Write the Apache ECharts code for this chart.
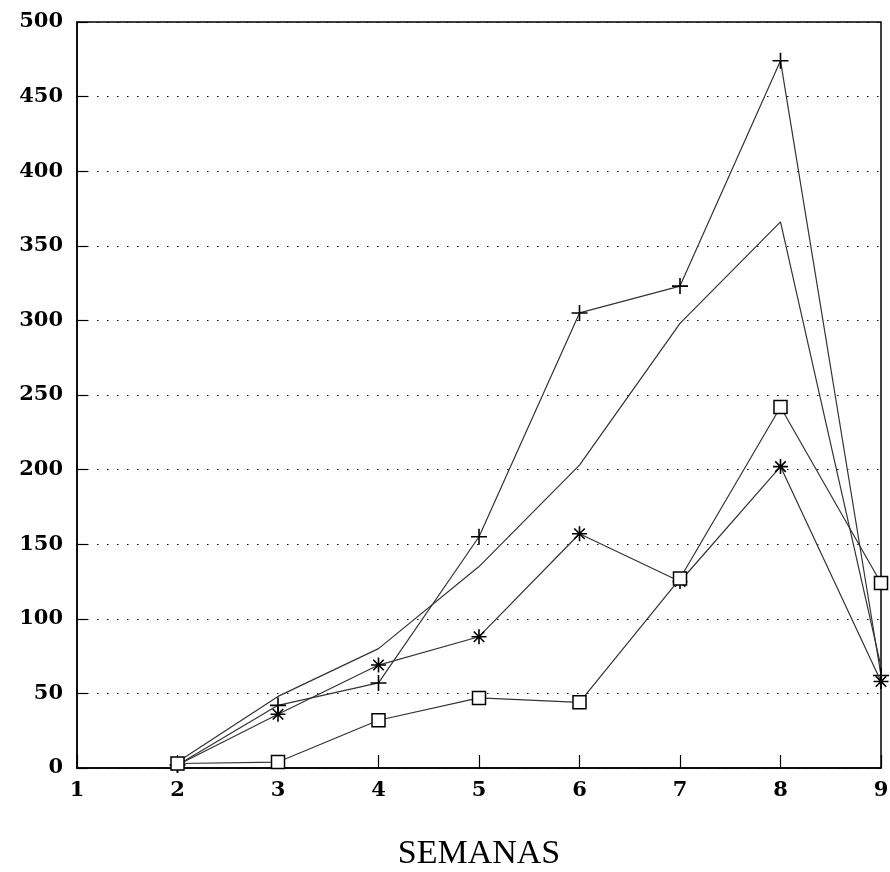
<!DOCTYPE html>
<html>
<head>
<meta charset="utf-8">
<script src="https://cdn.jsdelivr.net/npm/echarts@6/dist/echarts.min.js"></script>
<style>html,body{margin:0;padding:0;background:#fff;}#c{width:890px;height:872px;}</style>
</head>
<body>
<div id="c"></div>
<script>
const weeks = [2, 3, 4, 5, 6, 7, 8, 9];
const seriesPlus = [2, 42, 57, 155, 305, 323, 474, 62];
const seriesLine = [4, 48, 80, 135, 203, 298, 366, 68];
const seriesStar = [2, 36, 69, 88, 157, 125, 202, 58];
const seriesSquare = [3, 4, 32, 47, 44, 127, 242, 124];
const xTicks = [1, 2, 3, 4, 5, 6, 7, 8, 9];
const yTicks = [0, 50, 100, 150, 200, 250, 300, 350, 400, 450, 500];

const pair = arr => weeks.map((w, i) => [w, arr[i]]);
const lineStyle = { color: '#333', width: 1.2 };
const markerStyle = { color: 'none', borderColor: '#000', borderWidth: 1.6 };
const labelFont = { fontFamily: 'DejaVu Serif', fontWeight: 'bold', fontSize: 21, color: '#000' };

const chart = echarts.init(document.getElementById('c'), null, { renderer: 'canvas' });
chart.setOption({
  animation: false,
  backgroundColor: '#fff',
  grid: { left: 77, right: 9, top: 22, bottom: 104, show: true, borderColor: '#000', borderWidth: 1.5,
          containLabel: false, outerBoundsMode: 'none' },
  xAxis: {
    type: 'value', min: xTicks[0], max: xTicks[xTicks.length - 1], interval: 1,
    axisLine: { lineStyle: { color: '#000', width: 1.5 } },
    axisTick: { inside: true, length: 13, lineStyle: { color: '#000', width: 1.2 } },
    axisLabel: Object.assign({ margin: 12 }, labelFont),
    splitLine: { show: false },
    name: 'SEMANAS', nameLocation: 'middle', nameGap: 69,
    nameTextStyle: { fontFamily: 'Liberation Serif', fontSize: 34, color: '#000' }
  },
  yAxis: {
    type: 'value', min: yTicks[0], max: yTicks[yTicks.length - 1], interval: 50,
    axisLine: { show: true, lineStyle: { color: '#000', width: 1.5 } },
    axisTick: { show: true, inside: true, length: 10, lineStyle: { color: '#000', width: 1.2 } },
    axisLabel: Object.assign({ margin: 14 }, labelFont),
    splitLine: { show: true, lineStyle: { color: '#000', width: 1.2, type: [1.5, 8.5] } }
  },
  series: [
    { type: 'line', data: pair(seriesLine), showSymbol: false, symbol: 'none', lineStyle: lineStyle, z: 2 },
    { type: 'line', data: pair(seriesPlus), symbol: 'path://M6,0L6,12M0,6L12,6', symbolSize: 16,
      itemStyle: markerStyle, lineStyle: lineStyle, z: 3 },
    { type: 'line', data: pair(seriesStar), symbol: 'path://M6,0L6,12M0,6L12,6M1.8,1.8L10.2,10.2M10.2,1.8L1.8,10.2', symbolSize: 15,
      itemStyle: markerStyle, lineStyle: lineStyle, z: 4 },
    { type: 'line', data: pair(seriesSquare), symbol: 'rect', symbolSize: 13,
      itemStyle: { color: '#fff', borderColor: '#000', borderWidth: 1.5 }, lineStyle: lineStyle, z: 5 }
  ]
});
</script>
</body>
</html>
